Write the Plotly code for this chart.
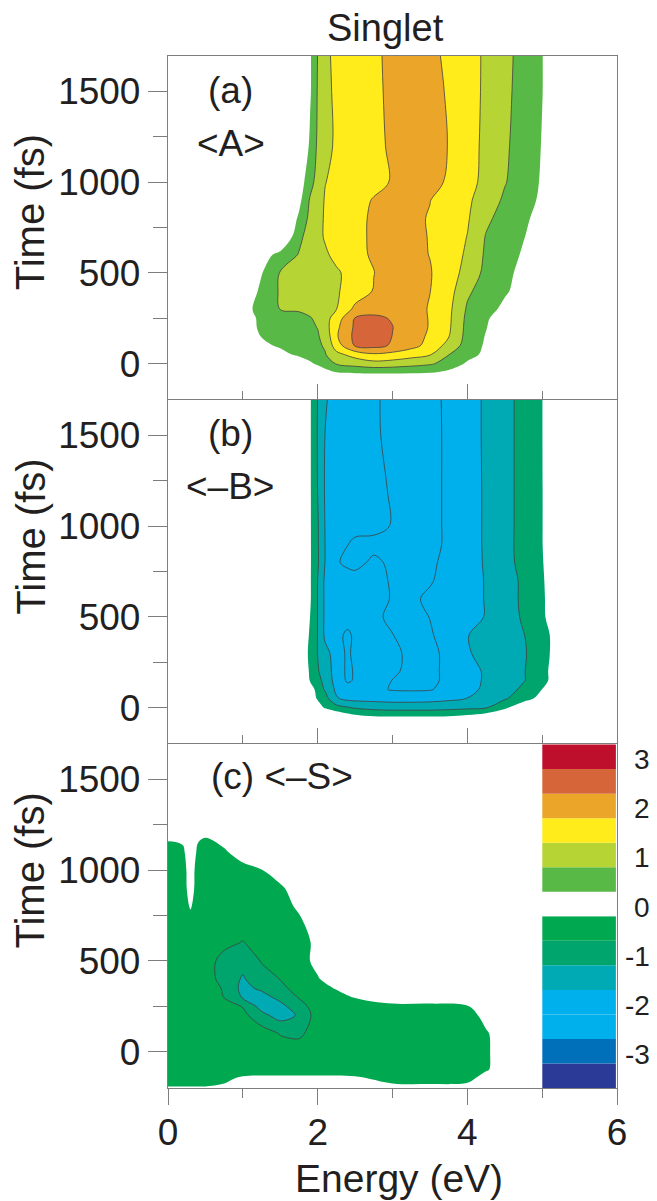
import plotly.graph_objects as go

FONT = "Liberation Sans, Arial, Helvetica, sans-serif"
INK = "#231f20"
FRAME = "#7d7d7d"
LINE = "#404040"
WHITE = "#ffffff"

# colour bands (bottom to top), each band is STEP wide
STEP = 0.5
BAND_EDGES = [-3.75, -3.25, -2.75, -2.25, -1.75, -1.25, -0.75, -0.25,
              0.25, 0.75, 1.25, 1.75, 2.25, 2.75, 3.25]
BAND_COLORS = ["#2b3a96", "#0070ba", "#00b0ec", "#00b0ec", "#00aab5", "#00a56e",
               "#00a850", "#ffffff", "#58b947", "#b6d433", "#ffec1a", "#eba62a",
               "#d6663a", "#be102d"]
CBAR_TICKS = [-3, -2, -1, 0, 1, 2, 3]
CBAR_TEXT = ["-3", "-2", "-1", "0", "1", "2", "3"]

# ---------------- panel (a) <A> ----------------
X_A = [0, 1.0, 1.25, 1.5, 1.75, 1.9, 2.0, 2.1, 2.25, 2.5, 2.75, 3.0, 3.25, 3.5,
       3.75, 4.0, 4.25, 4.5, 4.75, 5.0, 5.25, 6.0]
Y_A = [-200, -100, -50, 0, 50, 100, 150, 200, 250, 300, 400, 500, 600, 700, 800,
       900, 1000, 1200, 1500, 1700]
Z_A = [
    [-0.5, -0.5, -0.5, -0.5, -0.5, -0.5, -0.5, -0.5, -0.5, -0.5, -0.5, -0.5, -0.5, -0.5, -0.5, -0.5, -0.5, -0.5, -0.5, -0.5, -0.5, -0.5],
    [-0.5, -0.5, -0.5, -0.5, -0.5, -0.5, -0.5, -0.5, -0.5, -0.5, -0.5, -0.5, -0.5, -0.5, -0.5, -0.5, -0.5, -0.5, -0.5, -0.5, -0.5, -0.5],
    [-0.5, -0.5, -0.5, -0.5, -0.5, -0.4, -0.2, 0.0, 0.22, 0.29, 0.31, 0.31, 0.29, 0.26, 0.1, -0.1, -0.3, -0.5, -0.5, -0.5, -0.5, -0.5],
    [-0.5, -0.5, -0.5, -0.5, -0.15, 0.15, 0.35, 0.55, 0.78, 0.93, 1.07, 1.02, 0.92, 0.81, 0.58, 0.17, -0.24, -0.5, -0.5, -0.5, -0.5, -0.5],
    [-0.5, -0.43, -0.17, 0.09, 0.35, 0.51, 0.61, 0.72, 1.1, 1.44, 1.67, 1.59, 1.44, 1.28, 0.76, 0.44, 0.13, -0.19, -0.5, -0.5, -0.5, -0.5],
    [-0.5, -0.04, 0.14, 0.32, 0.5, 0.61, 0.68, 0.8, 1.5, 2.3, 2.41, 2.19, 1.92, 1.58, 1.08, 0.54, 0.18, -0.18, -0.5, -0.5, -0.5, -0.5],
    [-0.5, 0.1, 0.26, 0.4, 0.55, 0.65, 0.71, 0.9, 1.69, 2.37, 2.54, 2.24, 1.97, 1.67, 1.27, 0.58, 0.22, -0.14, -0.5, -0.5, -0.5, -0.5],
    [-0.5, 0.13, 0.29, 0.44, 0.6, 0.69, 0.76, 1.03, 1.64, 2.33, 2.46, 2.26, 1.99, 1.72, 1.33, 0.6, 0.27, -0.07, -0.4, -0.5, -0.5, -0.5],
    [-0.5, 0.13, 0.3, 0.46, 0.62, 0.72, 0.85, 1.05, 1.5, 2.28, 2.33, 2.22, 1.98, 1.72, 1.35, 0.63, 0.31, 0.0, -0.3, -0.5, -0.5, -0.5],
    [-0.5, 0.09, 0.4, 0.76, 0.8, 0.88, 0.98, 1.1, 1.24, 1.87, 2.11, 2.17, 2.01, 1.7, 1.37, 0.69, 0.42, 0.14, -0.14, -0.4, -0.5, -0.5],
    [-0.5, -0.25, 0.38, 0.8, 0.94, 1.01, 1.07, 1.12, 1.2, 1.47, 1.78, 1.9, 1.88, 1.76, 1.45, 0.83, 0.54, 0.31, 0.07, -0.16, -0.4, -0.5],
    [-0.5, -0.43, 0.22, 0.78, 0.92, 1.0, 1.06, 1.11, 1.19, 1.43, 1.74, 1.87, 1.9, 1.78, 1.49, 1.07, 0.62, 0.37, 0.12, -0.13, -0.38, -0.5],
    [-0.5, -0.4, 0.02, 0.41, 0.78, 0.96, 1.08, 1.19, 1.36, 1.62, 1.81, 1.93, 1.86, 1.74, 1.48, 1.18, 0.67, 0.44, 0.2, -0.03, -0.27, -0.5],
    [-0.5, -0.5, -0.5, -0.42, 0.63, 0.96, 1.14, 1.29, 1.42, 1.65, 1.81, 1.93, 1.86, 1.73, 1.49, 1.24, 0.72, 0.5, 0.27, 0.04, -0.2, -0.5],
    [-0.5, -0.5, -0.5, -0.5, 0.34, 0.89, 1.13, 1.29, 1.42, 1.64, 1.81, 1.93, 1.85, 1.72, 1.51, 1.3, 0.85, 0.56, 0.33, 0.1, -0.15, -0.5],
    [-0.5, -0.5, -0.5, -0.5, 0.1, 0.81, 1.08, 1.28, 1.4, 1.59, 1.78, 1.9, 1.88, 1.76, 1.54, 1.33, 1.02, 0.67, 0.42, 0.17, -0.08, -0.5],
    [-0.5, -0.5, -0.5, -0.5, -0.04, 0.58, 0.94, 1.24, 1.34, 1.49, 1.63, 1.78, 1.92, 1.85, 1.71, 1.42, 1.11, 0.78, 0.49, 0.2, -0.1, -0.5],
    [-0.5, -0.5, -0.5, -0.5, -0.47, 0.36, 0.83, 1.11, 1.32, 1.48, 1.65, 1.81, 1.97, 1.89, 1.74, 1.44, 1.14, 0.83, 0.52, 0.23, -0.1, -0.5],
    [-0.5, -0.5, -0.5, -0.5, -0.5, 0.19, 0.79, 1.14, 1.33, 1.5, 1.67, 1.83, 1.97, 1.88, 1.71, 1.44, 1.17, 0.87, 0.56, 0.26, -0.1, -0.5],
    [-0.5, -0.5, -0.5, -0.5, -0.5, 0.19, 0.76, 1.17, 1.34, 1.51, 1.68, 1.84, 2.0, 1.85, 1.67, 1.43, 1.18, 0.89, 0.58, 0.26, -0.08, -0.5],
]

# ---------------- panel (b) <-B> ----------------
X_B = [0, 1.5, 1.75, 1.9, 2.0, 2.1, 2.25, 2.4, 2.5, 2.75, 3.0, 3.25, 3.5, 3.75,
       4.0, 4.25, 4.5, 4.75, 5.0, 5.1, 5.25, 6.0]
Y_B = [-200, -100, -50, 0, 50, 100, 150, 200, 300, 400, 500, 600, 700, 800, 900,
       1000, 1200, 1500, 1700]
Z_B = [
    [0, 0, 0, 0, 0, 0, 0, 0, 0, 0, 0, 0, 0, 0, 0, 0, 0, 0, 0, 0, 0, 0],
    [0, 0, 0, 0, 0, 0, 0, 0, 0, 0, 0, 0, 0, 0, 0, 0, 0, 0, 0, 0, 0, 0],
    [0, 0, 0, 0, 0, -0.1, -0.3, -0.5, -0.6, -0.72, -0.73, -0.73, -0.73, -0.72, -0.6, -0.4, -0.1, 0, 0, 0, 0, 0],
    [0, 0, 0, 0, -0.5, -0.8, -1.05, -1.2, -1.3, -1.4, -1.45, -1.45, -1.45, -1.4, -1.35, -1.28, -0.85, -0.3, 0, 0, 0, 0],
    [0, 0, 0, -0.5, -0.8, -1.05, -1.7, -1.88, -1.9, -1.92, -1.95, -1.95, -1.92, -1.85, -1.74, -1.55, -1.3, -0.98, -0.55, 0, 0, 0],
    [0, 0, 0, -0.4, -1.0, -1.3, -1.85, -2.05, -2.1, -2.15, -2.28, -2.3, -2.28, -2.1, -1.9, -1.65, -1.45, -1.15, -0.74, 0, 0, 0],
    [0, 0, 0, -0.8, -1.1, -1.4, -1.95, -2.32, -2.2, -2.1, -2.26, -2.45, -2.4, -2.1, -1.95, -1.68, -1.45, -1.28, -0.95, -0.7, 0, 0],
    [0, 0, 0, -0.85, -1.2, -1.5, -1.95, -2.35, -2.2, -2.1, -2.15, -2.4, -2.4, -2.1, -1.95, -1.68, -1.45, -1.28, -0.95, -0.7, 0, 0],
    [0, 0, 0, -0.95, -1.26, -1.6, -1.95, -2.35, -2.1, -2.05, -2.1, -2.4, -2.4, -2.1, -1.8, -1.58, -1.43, -1.3, -1.0, -0.76, 0, 0],
    [0, 0, 0, -0.85, -1.26, -1.85, -2.1, -2.35, -2.15, -2.15, -2.24, -2.4, -2.3, -2.05, -1.77, -1.55, -1.4, -1.27, -0.95, -0.76, 0, 0],
    [0, 0, 0, -0.76, -1.26, -1.85, -2.0, -2.03, -2.05, -2.15, -2.35, -2.4, -2.24, -2.05, -1.95, -1.72, -1.52, -1.18, -0.88, -0.58, 0, 0],
    [0, 0, 0, -0.7, -1.26, -1.85, -2.0, -2.03, -2.05, -2.1, -2.28, -2.35, -2.15, -2.05, -1.95, -1.72, -1.5, -1.15, -0.87, -0.55, 0, 0],
    [0, 0, 0, -0.7, -1.26, -1.85, -2.0, -2.03, -2.05, -2.1, -2.3, -2.45, -2.3, -2.05, -1.95, -1.72, -1.5, -1.15, -0.85, -0.5, 0, 0],
    [0, 0, 0, -0.7, -1.18, -1.76, -2.2, -2.35, -2.4, -2.15, -2.35, -2.45, -2.35, -2.1, -1.95, -1.7, -1.45, -1.07, -0.85, -0.2, 0, 0],
    [0, 0, 0, -0.7, -1.2, -1.76, -2.0, -2.24, -2.35, -2.4, -2.45, -2.5, -2.42, -2.15, -1.95, -1.69, -1.43, -1.06, -0.8, 0, 0, 0],
    [0, 0, 0, -0.7, -1.2, -1.77, -1.95, -2.05, -2.1, -2.1, -2.28, -2.5, -2.42, -2.15, -1.95, -1.69, -1.43, -1.07, -0.8, 0, 0, 0],
    [0, 0, 0, -0.7, -1.26, -1.8, -1.95, -2.01, -2.05, -2.12, -2.3, -2.5, -2.42, -2.15, -1.95, -1.69, -1.42, -1.08, -0.8, 0, 0, 0],
    [0, 0, 0, -0.7, -1.28, -1.76, -1.95, -2.01, -2.05, -2.15, -2.42, -2.5, -2.42, -2.15, -1.95, -1.68, -1.42, -1.08, -0.78, 0, 0, 0],
    [0, 0, 0, -0.7, -1.26, -1.7, -1.95, -2.01, -2.05, -2.15, -2.45, -2.5, -2.4, -2.15, -1.95, -1.68, -1.4, -1.1, -0.78, 0, 0, 0],
]

# ---------------- panel (c) <-S> ----------------
X_C = [0, 0.1, 0.2, 0.3, 0.4, 0.5, 0.75, 1.0, 1.25, 1.5, 1.75, 2.0, 2.25, 2.5,
       3.0, 3.5, 4.0, 4.25, 4.5, 5.0, 6.0]
Y_C = [-200, -150, -100, 0, 100, 200, 250, 300, 350, 400, 500, 600, 700, 800,
       900, 1000, 1100, 1200, 1300, 1700]
Z_C = [
    [-0.2, -0.2, -0.2, -0.2, -0.2, -0.2, -0.15, 0, 0, 0, 0, 0, 0, 0, -0.1, -0.1, -0.05, 0, 0, 0, 0],
    [-0.5, -0.5, -0.5, -0.5, -0.5, -0.5, -0.35, -0.15, -0.1, -0.1, -0.1, -0.1, -0.1, -0.15, -0.4, -0.45, -0.4, 0, 0, 0, 0],
    [-0.5, -0.5, -0.5, -0.5, -0.5, -0.5, -0.5, -0.5, -0.5, -0.5, -0.5, -0.5, -0.5, -0.5, -0.5, -0.5, -0.5, -0.3, 0, 0, 0],
    [-0.5, -0.5, -0.5, -0.5, -0.5, -0.5, -0.5, -0.5, -0.5, -0.5, -0.5, -0.5, -0.5, -0.5, -0.5, -0.5, -0.5, -0.32, 0, 0, 0],
    [-0.5, -0.5, -0.5, -0.5, -0.5, -0.5, -0.5, -0.5, -0.5, -0.78, -0.85, -0.5, -0.5, -0.5, -0.5, -0.5, -0.5, -0.3, 0, 0, 0],
    [-0.5, -0.5, -0.5, -0.5, -0.5, -0.5, -0.5, -0.6, -1.1, -1.45, -1.2, -0.5, -0.5, -0.5, -0.5, -0.5, -0.45, -0.1, 0, 0, 0],
    [-0.5, -0.5, -0.5, -0.5, -0.5, -0.5, -0.5, -0.78, -1.45, -1.4, -0.95, -0.5, -0.5, -0.5, -0.5, -0.5, -0.28, 0, 0, 0, 0],
    [-0.5, -0.5, -0.5, -0.5, -0.5, -0.5, -0.76, -1.3, -1.45, -1.1, -0.72, -0.5, -0.5, -0.22, 0.33, 0.33, 0.3, 0, 0, 0, 0],
    [-0.5, -0.5, -0.5, -0.5, -0.5, -0.5, -0.8, -1.4, -1.15, -0.85, -0.6, -0.5, -0.2, 0.2, 0.33, 0.33, 0.33, 0, 0, 0, 0],
    [-0.5, -0.5, -0.5, -0.5, -0.5, -0.5, -0.95, -1.3, -0.95, -0.74, -0.5, -0.3, 0.1, 0.33, 0.33, 0.33, 0.33, 0, 0, 0, 0],
    [-0.5, -0.5, -0.5, -0.5, -0.5, -0.5, -0.95, -1.1, -0.72, -0.5, -0.5, -0.08, 0.3, 0.33, 0.33, 0.33, 0.33, 0, 0, 0, 0],
    [-0.5, -0.5, -0.5, -0.5, -0.5, -0.5, -0.6, -0.78, -0.5, -0.5, -0.5, -0.1, 0.3, 0.33, 0.33, 0.33, 0.33, 0, 0, 0, 0],
    [-0.5, -0.5, -0.5, -0.5, -0.5, -0.5, -0.5, -0.5, -0.5, -0.5, -0.4, 0.1, 0.3, 0.33, 0.33, 0.33, 0.33, 0, 0, 0, 0],
    [-0.5, -0.5, -0.5, -0.2, -0.5, -0.5, -0.5, -0.5, -0.5, -0.5, -0.15, 0.3, 0.33, 0.33, 0.33, 0.33, 0.33, 0, 0, 0, 0],
    [-0.5, -0.5, -0.5, 0.0, -0.5, -0.5, -0.5, -0.5, -0.5, -0.4, 0.2, 0.33, 0.33, 0.33, 0.33, 0.33, 0.33, 0, 0, 0, 0],
    [-0.5, -0.5, -0.5, 0.05, -0.5, -0.5, -0.5, -0.5, -0.28, 0.2, 0.33, 0.33, 0.33, 0.33, 0.33, 0.33, 0.33, 0, 0, 0, 0],
    [-0.5, -0.5, -0.35, 0.1, -0.35, -0.5, -0.35, 0.1, 0.33, 0.33, 0.33, 0.33, 0.33, 0.33, 0.33, 0.33, 0.33, 0, 0, 0, 0],
    [-0.08, -0.05, -0.08, 0.1, -0.15, -0.18, 0.1, 0.3, 0.33, 0.33, 0.33, 0.33, 0.33, 0.33, 0.33, 0.33, 0.33, 0, 0, 0, 0],
    [0.33, 0.33, 0.33, 0.33, 0.33, 0.33, 0.33, 0.33, 0.33, 0.33, 0.33, 0.33, 0.33, 0.33, 0.33, 0.33, 0.33, 0, 0, 0, 0],
    [0.33, 0.33, 0.33, 0.33, 0.33, 0.33, 0.33, 0.33, 0.33, 0.33, 0.33, 0.33, 0.33, 0.33, 0.33, 0.33, 0.33, 0, 0, 0, 0],
]

fig = go.Figure()

# (x axis, y axis, data, fill levels lo/hi, band colours, line levels lo/hi)
panels = [
    ("x", "y", X_A, Y_A, Z_A, 0.25, 2.75, BAND_COLORS[7:14], 0.75, 2.25),
    ("x2", "y2", X_B, Y_B, Z_B, -3.25, -0.75, BAND_COLORS[0:6] + [WHITE], -2.25, -1.25),
    ("x3", "y3", X_C, Y_C, Z_C, -1.75, -0.25, BAND_COLORS[3:8], -1.25, -0.75),
]
for xa, ya, x, y, z, lo, hi, cols, llo, lhi in panels:
    nc = int(round((hi - lo) / STEP)) + 1
    scale = [[k / nc, c] for k, c in enumerate(cols)]
    fig.add_trace(go.Contour(
        x=x, y=y, z=z, xaxis=xa, yaxis=ya, autocontour=False,
        contours=dict(start=lo, end=hi, size=STEP, coloring="fill", showlines=False),
        colorscale=scale, showscale=False,
        line=dict(width=0, smoothing=1.0), hoverinfo="skip"))
    fig.add_trace(go.Contour(
        x=x, y=y, z=z, xaxis=xa, yaxis=ya, autocontour=False,
        contours=dict(start=llo, end=lhi, size=STEP, coloring="none", showlines=True),
        showscale=False,
        line=dict(color=LINE, width=0.8, smoothing=1.0), hoverinfo="skip"))

# discrete colour key inside panel (c)
heights = [BAND_EDGES[i + 1] - BAND_EDGES[i] for i in range(len(BAND_COLORS))]
fig.add_trace(go.Bar(
    x=[0] * len(BAND_COLORS), y=heights, base=BAND_EDGES[:-1], width=1,
    marker=dict(color=BAND_COLORS, line=dict(width=0)),
    xaxis="x4", yaxis="y4", hoverinfo="skip"))

tickfont = dict(family=FONT, size=37, color=INK)


def xaxis(anchor, ticks, labels):
    return dict(domain=[0, 1], range=[0, 6], anchor=anchor, showline=True, mirror=True,
                linecolor=FRAME, linewidth=1.3, showgrid=False, zeroline=False,
                tick0=0, dtick=2, ticks=ticks, ticklen=16, tickwidth=1.3, tickcolor=FRAME,
                minor=dict(tick0=0, dtick=1, ticks=ticks, ticklen=9, tickwidth=1.3,
                           tickcolor=FRAME, showgrid=False),
                showticklabels=labels, tickfont=tickfont, ticklabelstandoff=-5)


def yaxis(anchor, dom):
    return dict(domain=dom, range=[-200, 1695], anchor=anchor, showline=True, mirror=True,
                linecolor=FRAME, linewidth=1.3, showgrid=False, zeroline=False,
                tick0=0, dtick=500, ticks="outside", ticklen=19, tickwidth=1.3,
                tickcolor=FRAME,
                minor=dict(tick0=0, dtick=250, ticks="outside", ticklen=14, tickwidth=1.3,
                           tickcolor=FRAME, showgrid=False),
                tickfont=tickfont)


annotations = [
    dict(text="Singlet", xref="paper", yref="paper", x=0.4855, y=1.0271,
         xanchor="center", yanchor="middle", showarrow=False,
         font=dict(family=FONT, size=38, color=INK)),
    dict(text="Energy (eV)", xref="paper", yref="paper", x=0.515, y=-0.0875,
         xanchor="center", yanchor="middle", showarrow=False,
         font=dict(family=FONT, size=39, color=INK)),
    dict(text="(a)", xref="x", yref="y", x=0.83, y=1504, showarrow=False,
         font=dict(family=FONT, size=37, color=INK)),
    dict(text="&lt;A&gt;", xref="x", yref="y", x=0.84, y=1214, showarrow=False,
         font=dict(family=FONT, size=37, color=INK)),
    dict(text="(b)", xref="x2", yref="y2", x=0.84, y=1512, showarrow=False,
         font=dict(family=FONT, size=37, color=INK)),
    dict(text="&lt;–B&gt;", xref="x2", yref="y2", x=0.835, y=1216, showarrow=False,
         font=dict(family=FONT, size=37, color=INK)),
    dict(text="(c) &lt;–S&gt;", xref="x3", yref="y3", x=0.55, y=1515, xanchor="left",
         showarrow=False, font=dict(family=FONT, size=37, color=INK)),
]
for ya, yc in (("y", 835), ("y2", 943), ("y3", 999)):
    annotations.append(dict(text="Time (fs)", xref="paper", yref=ya, x=-0.307, y=yc,
                            textangle=-90, xanchor="center", yanchor="middle",
                            showarrow=False, font=dict(family=FONT, size=40, color=INK)))
for v, t in zip(CBAR_TICKS, CBAR_TEXT):
    annotations.append(dict(text=t, xref="paper", yref="y4", x=1.078, y=v,
                            xanchor="right", yanchor="middle", yshift=-3, showarrow=False,
                            font=dict(family=FONT, size=28, color=INK)))

# the page adds an 8 px body margin, so the figure is sized 8 px smaller
fig.update_layout(
    width=649, height=1193,
    margin=dict(l=160, r=40, t=48, b=113),
    paper_bgcolor="white", plot_bgcolor="white",
    showlegend=False, barmode="overlay",
    font=dict(family=FONT, color=INK),
    xaxis=xaxis("y", "inside", False),
    xaxis2=xaxis("y2", "inside", False),
    xaxis3=xaxis("y3", "outside", True),
    yaxis=yaxis("x", [2 / 3, 1]),
    yaxis2=yaxis("x2", [1 / 3, 2 / 3]),
    yaxis3=yaxis("x3", [0, 1 / 3]),
    xaxis4=dict(domain=[5 / 6, 1], range=[-0.5, 0.515], anchor="y4", visible=False),
    yaxis4=dict(domain=[0, 1 / 3], range=[-3.75, 3.262], anchor="x4", visible=False),
    annotations=annotations,
)

fig.write_html("out.html")
